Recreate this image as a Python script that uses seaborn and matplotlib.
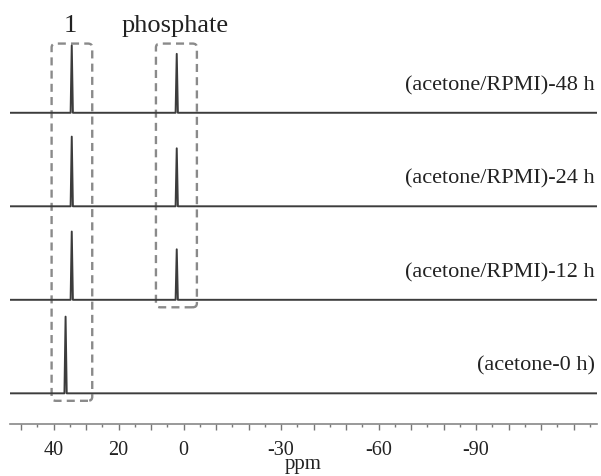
import numpy as np
import pandas as pd
import seaborn as sns
import matplotlib
matplotlib.use("Agg")
import matplotlib.pyplot as plt
from matplotlib.patches import FancyBboxPatch
from matplotlib.ticker import MultipleLocator

# Espectros (de abajo hacia arriba)
labels = ["(acetone-0 h)", "(acetone/RPMI)-12 h",
          "(acetone/RPMI)-24 h", "(acetone/RPMI)-48 h"]
offsets = [0, 1, 2, 3]
compound_ppm = [36.3, 34.4, 34.4, 34.4]
compound_height = [0.82, 0.73, 0.745, 0.72]
phosphate_ppm = [None, 2.1, 2.1, 2.1]
phosphate_height = [0.0, 0.54, 0.62, 0.63]

ppm_range = (53.4, -127.2)
tick_values = [40, 20, 0, -30, -60, -90]
tick_labels = ["40", "20", "0", "-30", "-60", "-90"]

# cajas punteadas: (ppm izq, ppm der, y abajo, y arriba)
box_compound = (40.6, 28.1, -0.08, 3.74)
box_phosphate = (8.5, -4.1, 0.92, 3.74)

sns.set_style("white")
plt.rcParams['font.family'] = ['Liberation Serif', 'DejaVu Serif']

fig = plt.figure(figsize=(6.01, 4.76), dpi=100)
ax = fig.add_axes([10 / 601, 52 / 476, 587 / 601, 424 / 476])

HW = 0.35  # media anchura del pico en ppm
for lab, off, p1, h1, p2, h2 in zip(labels, offsets, compound_ppm, compound_height,
                                     phosphate_ppm, phosphate_height):
    xs = [ppm_range[0], p1 + HW, p1, p1 - HW]
    ys = [0, 0, h1, 0]
    if p2 is not None:
        xs += [p2 + HW, p2, p2 - HW]
        ys += [0, h2, 0]
    xs.append(ppm_range[1])
    ys.append(0)
    df = pd.DataFrame({"ppm": xs, "int": np.array(ys) + off})
    sns.lineplot(data=df, x="ppm", y="int", ax=ax, color="#3c3c3c", lw=1.4,
                 sort=False, estimator=None)
    ax.text(-126.6, off + 0.29, lab, ha="right", va="center", fontsize=16,
            color="#222222")

for (x0, x1, y0, y1) in [box_compound, box_phosphate]:
    box = FancyBboxPatch((x1, y0), x0 - x1, y1 - y0,
                         boxstyle="round,pad=0,rounding_size=1.3",
                         mutation_aspect=0.033, fill=False, ec="#8a8a8a",
                         lw=1.7, ls=(0, (3.4, 2.2)), clip_on=False)
    ax.add_patch(box)

ax.text(34.7, 3.93, "1", ha="center", va="center", fontsize=19, color="#222222")
ax.text(2.6, 3.93, "phosphate", ha="center", va="center", fontsize=19,
        color="#222222")

ax.set_xlim(*ppm_range)
ax.set_ylim(-0.328, 4.206)
ax.xaxis.set_minor_locator(MultipleLocator(5))
major = np.arange(50, -130, -10)
ax.set_xticks(major)
ax.set_xticklabels([tick_labels[tick_values.index(v)] if v in tick_values else ""
                    for v in major])
ax.tick_params(axis="x", which="major", direction="out", length=4, width=1,
               color="#777777", labelsize=14.5, labelcolor="#222222", pad=8,
               bottom=True)
ax.tick_params(axis="x", which="minor", direction="out", length=2.5, width=1,
               color="#777777", bottom=True)
ax.set_yticks([])
ax.set_ylabel("")
ax.set_xlabel("ppm", fontsize=15, color="#222222", labelpad=-3)
for s in ["left", "right", "top"]:
    ax.spines[s].set_visible(False)
ax.spines["bottom"].set_color("#888888")
ax.spines["bottom"].set_linewidth(1.2)
ax.patch.set_alpha(0)

fig.savefig("out.png", dpi=100)
